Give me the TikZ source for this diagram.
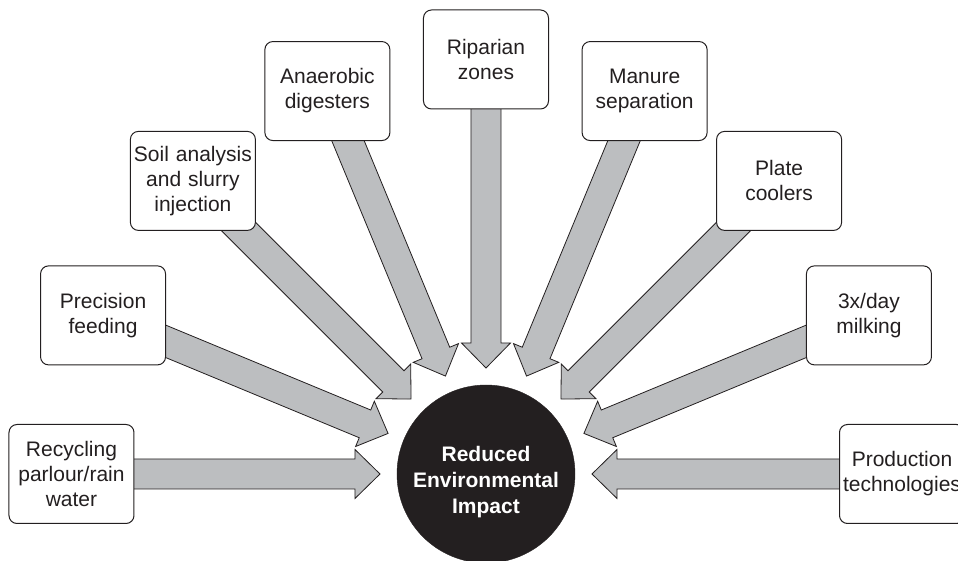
\documentclass[tikz,border=0pt]{standalone}
\usepackage{fontspec}
\setmainfont{Liberation Sans}
\usetikzlibrary{calc,backgrounds,positioning}
\definecolor{HubInk}{HTML}{231F20}
\definecolor{ArrowGrey}{HTML}{BCBEC0}

\begin{document}
\begin{tikzpicture}[x=1pt, y=1pt,
  card/.style={rounded corners=8pt, fill=white, draw=HubInk, line width=1pt,
               minimum width=125pt, minimum height=99pt, text width=122pt,
               align=center, inner sep=1pt,
               font=\fontsize{21}{25}\selectfont\color{HubInk}},
  hubnode/.style={circle, fill=HubInk, draw=HubInk, minimum size=178pt, inner sep=0pt},
  hubtext/.style={align=center, text=white, inner sep=0pt,
                  font=\fontsize{21}{26}\selectfont\bfseries},
  flow/.style={fill=ArrowGrey, draw=HubInk, line width=0.8pt, line join=miter}]
  \useasboundingbox (-486,-87) rectangle (472,474);
  \node[hubnode] (hub) at (0,0) {};
  \node[hubtext] (hublabel) at ([yshift=-8pt]hub.center) {Reduced\\ Environmental\\ Impact};
  \node[card] (recycle)  at (180:414.5)   {Recycling\\ parlour/rain\\ water};
  \node[card] (feeding)  at (157.5:414.5) {Precision\\ feeding};
  \node[card] (soil)     at (135:414.5)   {Soil analysis\\ and slurry\\ injection};
  \node[card] (digester) at (112.5:414.5) {Anaerobic\\ digesters};
  \node[card] (riparian) at (90:414.5)    {Riparian\\ zones};
  \node[card] (manure)   at (67.5:414.5)  {Manure\\ separation};
  \node[card] (cooler)   at (45:414.5)    {Plate\\ coolers};
  \node[card] (milking)  at (22.5:414.5)  {3x/day\\ milking};
  \node[card] (tech)     at (0:416)       {Production\\ technologies};
  % block arrows, behind the cards
  \begin{scope}[on background layer]
    \foreach \n in {recycle,feeding,soil,digester,riparian,manure,cooler,milking,tech}{
      \coordinate (hb) at ($(hub.center)!131pt!(\n.center)$);
      \coordinate (tp) at ($(hub.center)!106pt!(\n.center)$);
      \draw[flow] ($(\n.center)!15pt!90:(hub.center)$) -- ($(hb)!15pt!-90:(\n.center)$)
        -- ($(hb)!24.5pt!-90:(\n.center)$) -- (tp) -- ($(hb)!24.5pt!90:(\n.center)$)
        -- ($(hb)!15pt!90:(\n.center)$) -- ($(\n.center)!15pt!-90:(hub.center)$) -- cycle;
    }
  \end{scope}
\end{tikzpicture}
\end{document}
